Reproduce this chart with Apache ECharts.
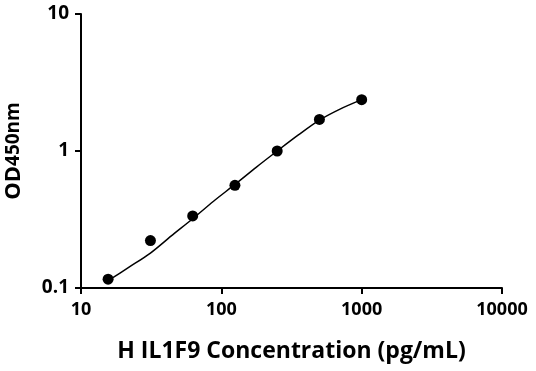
<!DOCTYPE html>
<html>
<head>
<meta charset="utf-8">
<script src="https://cdn.jsdelivr.net/npm/echarts@6/dist/echarts.min.js"></script>
<style>html,body{margin:0;padding:0;background:#fff}#c{width:536px;height:371px}</style>
</head>
<body>
<div id="c"></div>
<script>
// Measured points (concentration pg/mL, OD450)
var concentrations = [15.6, 31.25, 62.5, 125, 250, 500, 1000];
var odValues = [0.116, 0.222, 0.336, 0.562, 1.0, 1.70, 2.37];
// Fitted curve
var curveX = [15.6, 22, 31.25, 44, 62.5, 88, 125, 177, 250, 354, 500, 707, 1000];
var curveY = [0.113, 0.142, 0.18, 0.24, 0.32, 0.43, 0.57, 0.76, 1.0, 1.31, 1.68, 2.03, 2.37];
var xTicks = [10, 100, 1000, 10000];
var yTicks = [0.1, 1, 10];

var pts = concentrations.map(function (x, i) { return [x, odValues[i]]; });
var curve = curveX.map(function (x, i) { return [x, curveY[i]]; });

var chart = echarts.init(document.getElementById('c'));
var font = 'Open Sans';
chart.setOption({
  animation: false,
  grid: { left: 81, right: 34, top: 14, bottom: 83, outerBoundsMode: 'none', containLabel: false },
  xAxis: {
    type: 'log', logBase: 10, min: 10, max: 10000,
    name: 'H IL1F9 Concentration (pg/mL)',
    nameLocation: 'middle', nameGap: 52,
    nameTextStyle: { fontFamily: font, fontWeight: 'bold', fontSize: 23, color: '#000' },
    axisLine: { lineStyle: { color: '#000', width: 2 } },
    axisTick: { show: true, length: 6, lineStyle: { color: '#000', width: 2 } },
    minorTick: { show: false },
    splitLine: { show: false },
    axisLabel: { fontFamily: font, fontWeight: 'bold', fontSize: 18, color: '#000', margin: 13,
      formatter: function (v) { return String(Math.round(v)); } }
  },
  yAxis: {
    type: 'log', logBase: 10, min: 0.1, max: 10,
    name: '{a|OD}{b|450nm}',
    nameLocation: 'middle', nameGap: 56, nameRotate: 90,
    nameTextStyle: { rich: {
      a: { fontFamily: font, fontWeight: 'bold', fontSize: 22, color: '#000' },
      b: { fontFamily: font, fontWeight: 'bold', fontSize: 19, color: '#000' }
    } },
    axisLine: { show: true, lineStyle: { color: '#000', width: 2 } },
    axisTick: { show: true, length: 6, lineStyle: { color: '#000', width: 2 } },
    splitLine: { show: false },
    axisLabel: { fontFamily: font, fontWeight: 'bold', fontSize: 19, color: '#000', margin: 12,
      formatter: function (v) { return v < 1 ? v.toFixed(1) : String(Math.round(v)); } }
  },
  series: [
    { type: 'line', data: curve, smooth: 0.3, showSymbol: false, symbol: 'none',
      lineStyle: { color: '#000', width: 1.5 }, z: 2 },
    { type: 'scatter', data: pts, symbol: 'circle', symbolSize: 11,
      itemStyle: { color: '#000', opacity: 1 }, z: 3 }
  ]
});
</script>
</body>
</html>
